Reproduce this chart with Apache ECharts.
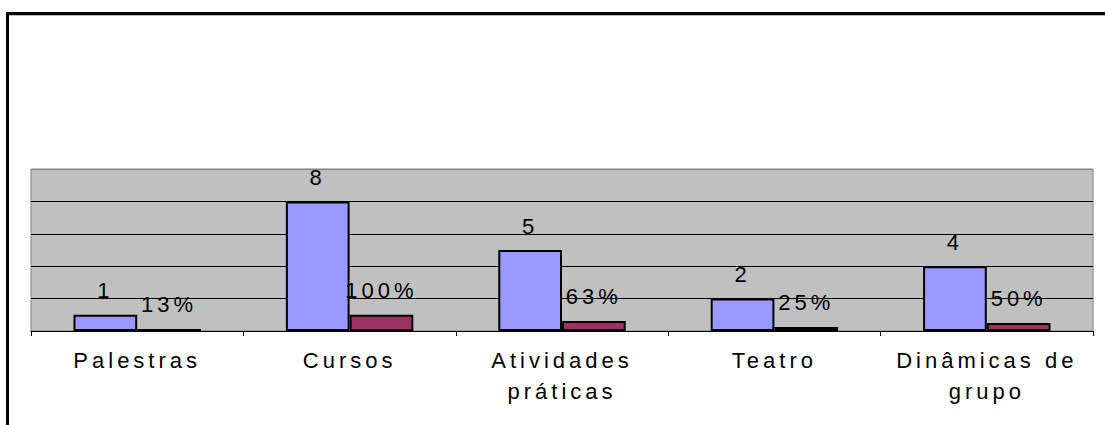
<!DOCTYPE html>
<html>
<head>
<meta charset="utf-8">
<script src="https://cdn.jsdelivr.net/npm/echarts@6/dist/echarts.min.js"></script>
<style>
  html, body { margin: 0; padding: 0; background: #fff; }
  #chart { width: 1105px; height: 425px; }
  /* espaçamento largo entre letras, como no original */
  #chart text { letter-spacing: 4px; }
</style>
</head>
<body>
<div id="chart"></div>
<script>
// categorias e valores
const categorias = ['Palestras', 'Cursos', 'Atividades\npráticas', 'Teatro', 'Dinâmicas de\ngrupo'];
const quantidade = [1, 8, 5, 2, 4];
const percentual = [0.125, 1, 0.625, 0.25, 0.5];

const fonte = 'Liberation Sans, Arial, sans-serif';

const chart = echarts.init(document.getElementById('chart'), null, { renderer: 'svg' });

const option = {
  animation: false,
  backgroundColor: '#fff',
  // moldura externa (linhas pretas à esquerda e em cima)
  graphic: [
    { type: 'rect', shape: { x: 6, y: 12, width: 3, height: 420 }, style: { fill: '#000' } },
    { type: 'rect', shape: { x: 6, y: 12, width: 1110, height: 3 }, style: { fill: '#000' } },
    { type: 'rect', shape: { x: 9, y: 15, width: 1110, height: 1 }, style: { fill: '#bbb' } }
  ],
  grid: {
    left: 31, right: 12, top: 169, bottom: 94,
    show: true,
    backgroundColor: '#C0C0C0',
    borderColor: '#808080',
    borderWidth: 1
  },
  xAxis: {
    type: 'category',
    data: categorias,
    axisLine: { lineStyle: { color: '#000', width: 1 } },
    axisTick: { show: true, length: 5, lineStyle: { color: '#000' } },
    axisLabel: {
      interval: 0,
      margin: 14,
      color: '#000',
      fontFamily: fonte,
      fontSize: 22,
      lineHeight: 31
    }
  },
  yAxis: {
    type: 'value',
    min: 0,
    max: 10,
    interval: 2,
    axisLine: { show: false },
    axisTick: { show: false },
    axisLabel: { show: false },
    splitLine: { lineStyle: { color: ['#000', '#000', '#000', '#000', '#000', '#808080'], width: 1 } }
  },
  series: [
    {
      type: 'bar',
      data: quantidade,
      barGap: '0%',
      barCategoryGap: '40%',
      itemStyle: { color: '#9999FF', borderColor: '#000', borderWidth: 2 },
      label: {
        show: true,
        position: 'top',
        distance: 13,
        color: '#000',
        fontFamily: fonte,
        fontSize: 22
      }
    },
    {
      type: 'bar',
      data: percentual,
      itemStyle: { color: '#993366', borderColor: '#000', borderWidth: 2 },
      label: {
        show: true,
        position: 'top',
        distance: 13,
        color: '#000',
        fontFamily: fonte,
        fontSize: 22,
        formatter: p => Math.round(p.value * 100) + '%'
      }
    }
  ]
};

chart.setOption(option);
</script>
</body>
</html>
